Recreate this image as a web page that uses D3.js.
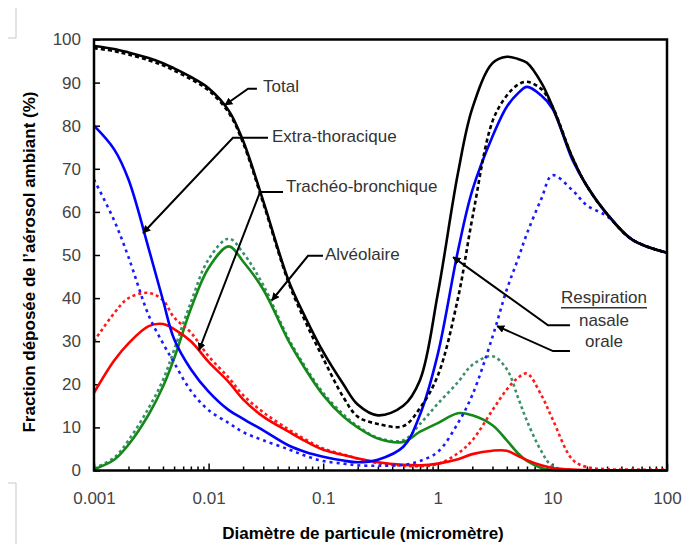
<!DOCTYPE html>
<html>
<head>
<meta charset="utf-8">
<script src="https://cdn.jsdelivr.net/npm/d3@7/dist/d3.min.js"></script>
<style>
body{margin:0;background:#fff}
text{font-family:"Liberation Sans",Arial,sans-serif}
</style>
</head>
<body>
<script>
// diamètres (micromètre) communs à toutes les courbes
var diam = [0.001,0.0015,0.002,0.003,0.004,0.005,0.007,0.01,0.015,0.02,0.03,0.05,0.07,0.1,0.15,0.2,0.3,0.5,0.7,1,1.5,2,3,4,5,6,8,10,15,20,30,50,100]

// fraction déposée (%)
var totalNasal = [98.5,97.8,97,95.7,94.5,93.3,91.3,88.7,83.5,76.5,62.5,44,35.5,27.5,20,15.3,12.8,15,21,41,69,84,94.5,96,95.5,94.6,90,84.5,72.5,66,59.5,53.5,50.5]
var totalOral  = [98,97.3,96.5,95.2,94,92.8,90.8,88.2,83,76,62,43.5,34.5,26,17,12.5,10.8,10.3,14.5,22,40,58.5,81,87,89.5,90.2,88.5,84.5,72.5,66,59.5,53.5,50.5]
var etNasal    = [80,74.5,67.5,51.5,39.5,30.5,23.5,18.3,14,12,9.3,5.8,4.3,3.2,2.3,1.9,2.5,5.5,13,27,51,65,77.5,84.4,87.5,89,87,84,72,66,59.5,53.5,50.5]
var etOral     = [67.5,58,49.5,36,29.5,25,18.5,14,11,8.9,7,4.9,3.4,2.2,1.6,1.2,1.1,1.3,2.2,4.3,11,17.5,31,42,49,55,63,68.5,65,61.5,59,53.5,50.5]
var tbNasal    = [18,25.5,29.5,33.5,34,32.8,30,25.2,20.5,16.5,12.5,9,6.8,4.8,3.6,2.8,1.9,1.3,1.2,1.6,2.6,3.8,4.6,4.6,3.4,2.4,1.2,0.6,0.2,0.1,0,0,0]
var tbOral     = [30,36.5,40,41.2,39.5,35.5,32,26.5,21.5,17.5,13.5,9.5,7.2,5.1,3.7,2.8,1.7,1.1,1,1.5,4,7,14,18.8,21.5,22.5,17.5,12,2.5,0.8,0.3,0.2,0.2]
var alNasal    = [0.3,2.5,6,13,19.5,26,37.5,47,52,48.5,42,30,23.5,17.5,12.5,10,7.4,6.6,9,11,13.3,12.8,10.5,7,4,2.2,0.6,0.1,0,0,0,0,0]
var alOral     = [0.5,3,7,14.5,21,28,39,49,53.8,50.5,43,30.5,24,18,13,10.3,7.6,7,10.8,15.5,20.5,24.5,26.5,23.5,17,11.5,4.5,1,0.1,0,0,0,0]

var xTicks = [0.001,0.01,0.1,1,10,100]
var xTickLabels = ["0.001","0.01","0.1","1","10","100"]
var yTicks = [0,10,20,30,40,50,60,70,80,90,100]

var series = [
  {values:alOral, color:"#3a9068", dash:"3,3"},
  {values:alNasal, color:"#15881a", dash:null},
  {values:tbOral, color:"#ff1a1a", dash:"3,3"},
  {values:tbNasal, color:"#ff0000", dash:null},
  {values:etOral, color:"#1a1aff", dash:"3,4"},
  {values:etNasal, color:"#0000ff", dash:null},
  {values:totalOral, color:"#000000", dash:"4,3"},
  {values:totalNasal, color:"#000000", dash:null}
]

// annotations : [diamètre, %]
var notes = [
  {label:"Total", text:[0.0299,89.3], line:[[0.0264,88.6],[0.0221,88.6],[0.0139,84.8]]},
  {label:"Extra-thoracique", text:[0.0357,77.6], line:[[0.0330,77.2],[0.0163,77.2],[0.00268,55.1]]},
  {label:"Trachéo-bronchique", text:[0.0473,66], line:[[0.0446,64.6],[0.0281,64.6],[0.00825,27.9]]},
  {label:"Alvéolaire", text:[0.1037,50.3], line:[[0.0996,49.8],[0.0737,49.8],[0.0357,39.5]]},
  {label:null, line:[[14.25,33.7],[9.16,33.7],[1.36,49.5]]},
  {label:null, line:[[14.25,27.7],[10.12,27.7],[3.29,33.5]]}
]
var legendTitle = "Respiration"
var legendLabels = ["nasale","orale"]
var legendPos = [[28.2,40.3],[28.2,34.9],[28.2,30]]

var width = 695
var height = 544

var svg = d3.select("body").append("svg")
  .attr("width",width)
  .attr("height",height)

// petites marques de coupe grises
svg.append("path").attr("d","M8,38H16V8M8,483H16V544")
  .attr("fill","none").attr("stroke","#c8c8c8").attr("stroke-width",1)

var x = d3.scaleLog().domain([0.001,100]).range([94,667])
var y = d3.scaleLinear().domain([0,100]).range([470.5,39.5])

var defs = svg.append("defs")
defs.append("marker").attr("id","head")
  .attr("viewBox","0 0 10 10").attr("refX",9).attr("refY",5)
  .attr("markerWidth",8).attr("markerHeight",8)
  .attr("markerUnits","userSpaceOnUse")
  .attr("orient","auto")
  .append("path").attr("d","M0,0L10,5L0,10z").attr("fill","#000")

// ticks mineurs
var minor = []
for(var e=-3;e<2;e++){
  for(var k=2;k<10;k++) minor.push(k*Math.pow(10,e))
}
svg.append("g").attr("transform","translate(0,470.5)")
  .call(d3.axisBottom(x).tickValues(minor).tickSize(-4).tickFormat(""))
  .call(function(g){g.select(".domain").remove()})
  .selectAll("line").attr("stroke","#000").attr("stroke-width",1.5)

var xa = svg.append("g").attr("transform","translate(0,470.5)")
  .call(d3.axisBottom(x).tickValues(xTicks).tickSize(-7).tickPadding(21)
    .tickFormat(function(d,i){return xTickLabels[i]}))
xa.select(".domain").remove()
xa.selectAll("line").attr("stroke","#000").attr("stroke-width",1.5)
xa.selectAll("text").attr("font-size",17).attr("fill","#444")
  .style("font-family","'Liberation Sans',Arial,sans-serif")

var ya = svg.append("g").attr("transform","translate(94,0)")
  .call(d3.axisLeft(y).tickValues(yTicks).tickSize(-6).tickPadding(13))
ya.select(".domain").remove()
ya.selectAll("line").attr("stroke","#000").attr("stroke-width",1.5)
ya.selectAll("text").attr("font-size",17).attr("fill","#444")
  .style("font-family","'Liberation Sans',Arial,sans-serif")

var line = d3.line()
  .x(function(d,i){return x(diam[i])})
  .y(function(d){return y(d)})
  .curve(d3.curveCatmullRom.alpha(0.5))

svg.append("g").selectAll("path")
  .data(series)
  .enter()
  .append("path")
  .attr("d",function(s){return line(s.values)})
  .attr("fill","none")
  .attr("stroke",function(s){return s.color})
  .attr("stroke-width",2.6)
  .attr("stroke-dasharray",function(s){return s.dash})

// cadre
svg.append("rect")
  .attr("x",x(0.001)).attr("y",y(100))
  .attr("width",x(100)-x(0.001)).attr("height",y(0)-y(100))
  .attr("fill","none").attr("stroke","#000").attr("stroke-width",2.5)

// flèches
var pline = d3.line().x(function(p){return x(p[0])}).y(function(p){return y(p[1])})
notes.forEach(function(n){
  svg.append("path").attr("d",pline(n.line))
    .attr("fill","none").attr("stroke","#000").attr("stroke-width",2)
    .attr("marker-end","url(#head)")
  if(n.label){
    svg.append("text").text(n.label)
      .attr("x",x(n.text[0])).attr("y",y(n.text[1]))
      .attr("dy","0.35em")
      .attr("font-size",17).attr("fill","#333")
  }
})

var lt = svg.append("text").text(legendTitle)
  .attr("x",x(legendPos[0][0])).attr("y",y(legendPos[0][1])).attr("dy","0.35em")
  .attr("text-anchor","middle").attr("font-size",17).attr("fill","#333")
var bb = lt.node().getBBox()
svg.append("line").attr("x1",bb.x).attr("x2",bb.x+bb.width)
  .attr("y1",bb.y+bb.height+1).attr("y2",bb.y+bb.height+1)
  .attr("stroke","#333").attr("stroke-width",1.5)
legendLabels.forEach(function(l,i){
  svg.append("text").text(l)
    .attr("x",x(legendPos[i+1][0])).attr("y",y(legendPos[i+1][1])).attr("dy","0.35em")
    .attr("text-anchor","middle").attr("font-size",17).attr("fill","#333")
})

// titres des axes
svg.append("text").text("Diamètre de particule (micromètre)")
  .attr("x",363).attr("y",539)
  .attr("text-anchor","middle").attr("font-size",17).attr("font-weight","bold")
svg.append("text").text("Fraction déposée de l’aérosol ambiant (%)")
  .attr("transform","translate(29,262) rotate(-90)")
  .attr("dy","0.35em")
  .attr("text-anchor","middle").attr("font-size",17).attr("font-weight","bold")
</script>
</body>
</html>
